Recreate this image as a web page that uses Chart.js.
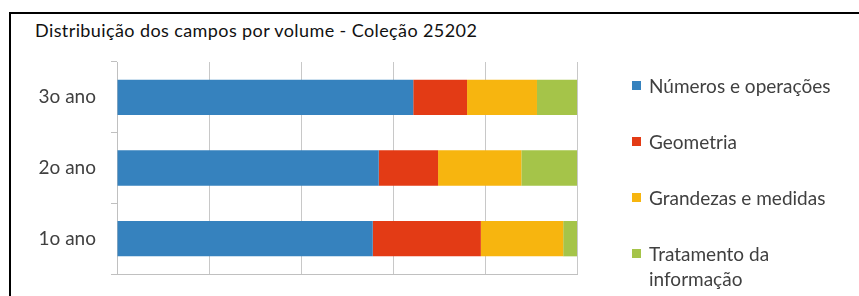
<!DOCTYPE html>
<html>
<head>
<meta charset="utf-8">
<script src="https://cdn.jsdelivr.net/npm/chart.js@4"></script>
<style>
  html, body { margin: 0; padding: 0; background: #fff; overflow: hidden; }
  #page { position: relative; width: 859px; height: 296px; overflow: hidden; }
  #frame { position: absolute; left: 9px; top: 12px; width: 900px; height: 400px; border: 2px solid #000; }
  #titulo { position: absolute; left: 35px; top: 19px; font-family: Lato, sans-serif; font-size: 18px; letter-spacing: 0.4px; color: #111; white-space: nowrap; }
  #grafico { position: absolute; left: 0; top: 0; }
  #legenda { position: absolute; left: 632px; top: 73px; width: 215px; font-family: Lato, sans-serif; font-size: 19px; line-height: 25px; color: #404040; }
  .item { display: flex; align-items: flex-start; margin-bottom: 31px; }
  .quadrado { width: 9px; height: 9px; margin: 8px 8px 0 0; flex: none; }
</style>
</head>
<body>
<div id="page">
  <div id="frame"></div>
  <div id="titulo">Distribuição dos campos por volume - Coleção 25202</div>
  <canvas id="grafico" width="859" height="296"></canvas>
  <div id="legenda"></div>
</div>
<script>
// anos (de cima para baixo)
const anos = ["3o ano", "2o ano", "1o ano"];

// percentuais
const numerosOperacoes = [64.4, 56.9, 55.6];
const geometria = [11.7, 12.9, 23.5];
const grandezasMedidas = [15.2, 18.1, 17.9];
const tratamentoInformacao = [8.7, 12.1, 3.0];

const nomesCampos = ["Números e operações", "Geometria", "Grandezas e medidas", "Tratamento da informação"];
const cores = ["#3682BE", "#E33B15", "#F7B50F", "#A5C449"];

const series = [numerosOperacoes, geometria, grandezasMedidas, tratamentoInformacao];

var ctx = document.getElementById("grafico").getContext("2d");
var grafico = new Chart(ctx, {
    type: "bar",
    data: {
        labels: anos,
        datasets: series.map(function (valores, i) {
            return {
                label: nomesCampos[i],
                data: valores,
                backgroundColor: cores[i],
                borderWidth: 0,
                barPercentage: 0.5,
                categoryPercentage: 1
            };
        })
    },
    options: {
        responsive: false,
        animation: false,
        indexAxis: "y",
        layout: {
            padding: { left: 30, right: 282, top: 62, bottom: 22 }
        },
        plugins: {
            legend: { display: false },
            title: { display: false },
            tooltip: { enabled: false }
        },
        scales: {
            x: {
                stacked: true,
                min: 0,
                max: 100,
                ticks: { display: false, stepSize: 20 },
                grid: { color: "#c8c8c8", lineWidth: 1, drawTicks: false },
                border: { color: "#c0c0c0" }
            },
            y: {
                stacked: true,
                afterFit: function (escala) {
                    escala.width = 87;
                    escala.paddingTop = 0;
                    escala.paddingBottom = 0;
                },
                ticks: {
                    color: "#404040",
                    padding: 15,
                    font: { family: "Lato", size: 19 }
                },
                grid: { offset: true, drawOnChartArea: false, tickLength: 6, color: "#c0c0c0" },
                border: { color: "#c0c0c0" }
            }
        }
    }
});

// legenda em HTML, gerada a partir dos datasets
var legenda = document.getElementById("legenda");
grafico.data.datasets.forEach(function (ds) {
    var item = document.createElement("div");
    item.className = "item";
    var q = document.createElement("span");
    q.className = "quadrado";
    q.style.background = ds.backgroundColor;
    var t = document.createElement("span");
    t.textContent = ds.label;
    item.appendChild(q);
    item.appendChild(t);
    legenda.appendChild(item);
});
</script>
</body>
</html>
